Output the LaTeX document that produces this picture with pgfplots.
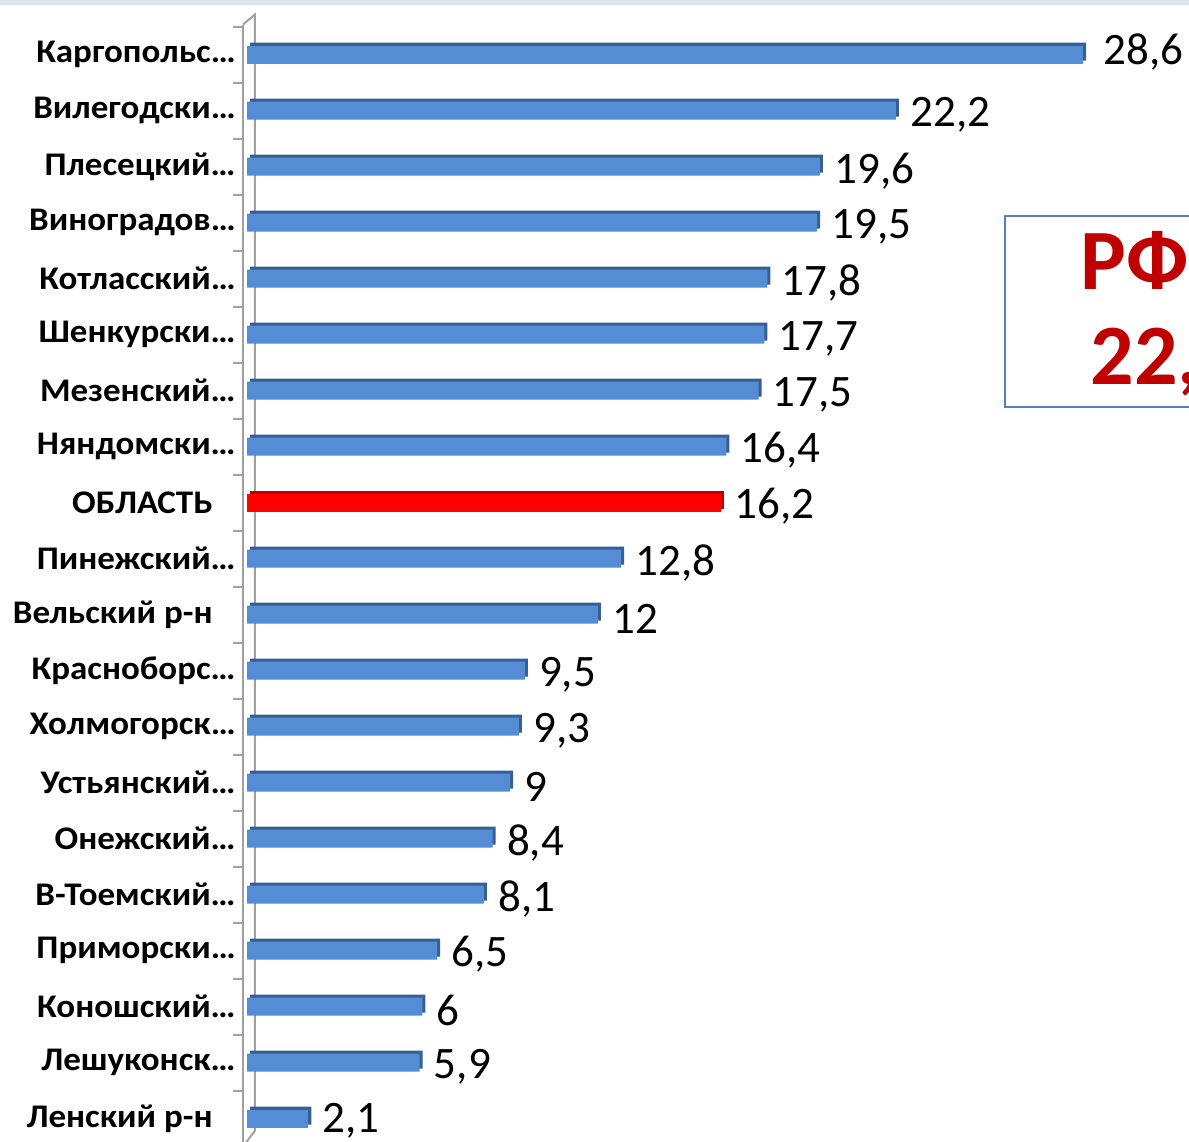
\documentclass[border=0pt]{standalone}
\usepackage{fontspec}
\setmainfont{Carlito}
\newfontfamily\lblfont[FakeStretch=1.06]{Carlito}
\usepackage{pgfplots}
\pgfplotsset{compat=1.18}
\definecolor{barblue}{RGB}{84,141,212}
\definecolor{bardark}{RGB}{55,96,146}
\definecolor{redbar}{RGB}{255,0,0}
\definecolor{reddark}{RGB}{192,0,0}
\definecolor{boxred}{RGB}{192,0,0}
\definecolor{boxline}{RGB}{79,129,189}
\definecolor{band}{RGB}{220,230,242}
\definecolor{axgray}{RGB}{160,160,160}
\begin{document}
\begin{tikzpicture}[x=1pt,y=1pt]
\useasboundingbox (0,0) rectangle (594.5,570.5);
\clip (0,0) rectangle (594.5,570.5);
\fill[band] (0,568) rectangle (594.5,570.5);
\begin{axis}[
  at={(121.5pt,-2.75pt)}, anchor=south west,
  scale only axis, width=469.7pt, height=561pt,
  xmin=-0.14, xmax=32, ymin=-0.54, ymax=19.5,
  y dir=reverse,
  axis x line=none,
  axis y line*=left,
  y axis line style={axgray, line width=1pt, -},
  ytick={0,...,19},
  yticklabels={Каргопольс…,Вилегодски…,Плесецкий…,Виноградов…,Котласский…,Шенкурски…,Мезенский…,Няндомски…,ОБЛАСТЬ\hspace*{11.5pt},Пинежский…,Вельский р-н\hspace*{11.5pt},Красноборс…,Холмогорск…,Устьянский…,Онежский…,В-Тоемский…,Приморски…,Коношский…,Лешуконск…,Ленский р-н\hspace*{11.5pt}},
  major tick length=0pt,
  minor ytick={-0.5,0.5,...,18.5},
  minor tick length=5pt,
  tick align=outside,
  minor tick style={axgray, line width=1pt},
  yticklabel style={font=\lblfont\bfseries\fontsize{16.5}{18}\selectfont, anchor=east, inner sep=0pt, xshift=-3.5pt},
  xbar, bar width=9pt, bar shift=0pt,
  clip=false,
  point meta=x,
  lbl/.style 2 args={nodes near coords={\pgfmathprintnumber[use comma,fixed,precision=1,assume math mode=true]{\pgfplotspointmeta}},
    nodes near coords style={font=\fontsize{22.5}{24}\selectfont, anchor=west, inner sep=0pt, xshift=#1, yshift=#2, text=black}},
]
\draw[axgray, line width=1pt] (axis cs:-0.14,-0.54) -- (axis cs:0.27,-0.72) -- (axis cs:0.27,19.22) -- (axis cs:-0.14,19.5);
% 3D back faces
\addplot[fill=bardark, draw=none, xshift=1.5pt, yshift=1.5pt] coordinates {
(28.6,0) (22.2,1) (19.6,2) (19.5,3) (17.8,4) (17.7,5) (17.5,6) (16.4,7)
(12.8,9) (12,10) (9.5,11) (9.3,12) (9,13) (8.4,14) (8.1,15) (6.5,16) (6,17) (5.9,18) (2.1,19)};
\addplot[fill=reddark, draw=none, xshift=1.5pt, yshift=1.5pt] coordinates {(16.2,8)};
% front faces
\addplot[fill=barblue, draw=none, lbl={10pt}{1.5pt}] coordinates {(28.6,0)};
\addplot[fill=barblue, draw=none, lbl={7pt}{-2pt}] coordinates {
(22.2,1) (19.6,2) (19.5,3) (17.8,4) (17.7,5) (17.5,6) (16.4,7)
(12.8,9) (12,10) (9.5,11) (9.3,12) (9,13) (8.4,14) (8.1,15) (6.5,16) (6,17) (5.9,18)};
\addplot[fill=barblue, draw=none, lbl={7pt}{-1pt}] coordinates {(2.1,19)};
\addplot[fill=redbar, draw=none, lbl={7pt}{-2pt}] coordinates {(16.2,8)};
\end{axis}
\draw[boxline, line width=0.8pt] (502.5,462.5) rectangle (640,367);
\node[anchor=base west, inner sep=0pt, text=boxred, font=\bfseries\fontsize{43}{46}\selectfont] at (540,425.5) {РФ};
\node[anchor=base west, inner sep=0pt, text=boxred, font=\bfseries\fontsize{43}{46}\selectfont] at (545,378) {22,};
\end{tikzpicture}
\end{document}
